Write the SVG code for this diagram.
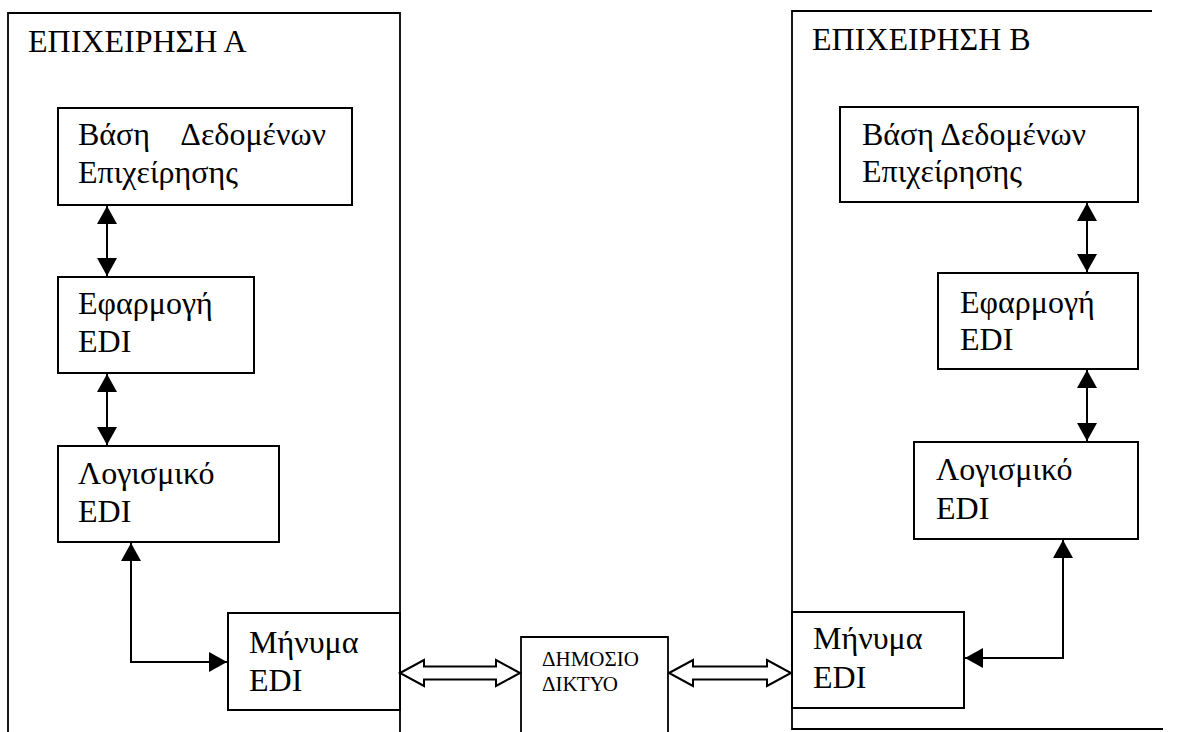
<svg xmlns="http://www.w3.org/2000/svg" width="1181" height="732" viewBox="0 0 1181 732">
<style>
.bg{fill:#fff}
.box{fill:#fff;stroke:#000;stroke-width:2}
.outer{fill:none;stroke:#000;stroke-width:1.8}
text{font-family:"Liberation Serif","Times New Roman",serif;fill:#000}
.t{font-size:32px}
.ts{font-size:21px}
.c{fill:none;stroke:#000;stroke-width:2}
.h{fill:#fff;stroke:#000;stroke-width:2;stroke-linejoin:miter}
</style>
<defs>
<marker id="ah" viewBox="0 0 18 20" refX="18" refY="10" markerWidth="18" markerHeight="20" markerUnits="userSpaceOnUse" orient="auto-start-reverse">
<path d="M0,0 L18,10 L0,20 z" fill="#000"/>
</marker>
</defs>
<rect class="bg" x="0" y="0" width="1181" height="732"/>
<g id="firmA">
<path class="outer" d="M8,732 V13 H400 V732"/>
<text class="t" x="28" y="52">ΕΠΙΧΕΙΡΗΣΗ Α</text>
</g>
<g id="firmB">
<path class="outer" d="M1152,11 H792 V729 H1163"/>
<text class="t" x="812" y="50">ΕΠΙΧΕΙΡΗΣΗ B</text>
</g>
<g id="dbA">
<rect class="box" x="58" y="108" width="294" height="97"/>
<text class="t" x="78" y="145">Βάση</text>
<text class="t" x="326" y="145" text-anchor="end">Δεδομένων</text>
<text class="t" x="78" y="183">Επιχείρησης</text>
</g>
<g id="appA">
<rect class="box" x="58" y="277" width="196" height="96"/>
<text class="t" x="78" y="314">Εφαρμογή</text>
<text class="t" x="78" y="352">EDI</text>
</g>
<g id="swA">
<rect class="box" x="58" y="446" width="221" height="96"/>
<text class="t" x="78" y="484">Λογισμικό</text>
<text class="t" x="78" y="522">EDI</text>
</g>
<g id="msgA">
<rect class="box" x="228" y="613" width="172" height="97"/>
<text class="t" x="249" y="653">Μήνυμα</text>
<text class="t" x="249" y="691">EDI</text>
</g>
<g id="net">
<path class="outer" d="M521,732 V637 H668 V732"/>
<text class="ts" x="542" y="666">ΔΗΜΟΣΙΟ</text>
<text class="ts" x="542" y="691">ΔΙΚΤΥΟ</text>
</g>
<g id="dbB">
<rect class="box" x="840" y="107" width="298" height="95"/>
<text class="t" x="862" y="145">Βάση Δεδομένων</text>
<text class="t" x="862" y="182">Επιχείρησης</text>
</g>
<g id="appB">
<rect class="box" x="938" y="273" width="200" height="96"/>
<text class="t" x="960" y="313">Εφαρμογή</text>
<text class="t" x="960" y="350">EDI</text>
</g>
<g id="swB">
<rect class="box" x="914" y="442" width="224" height="97"/>
<text class="t" x="936" y="480">Λογισμικό</text>
<text class="t" x="936" y="519">EDI</text>
</g>
<g id="msgB">
<rect class="box" x="792" y="612" width="172" height="96"/>
<text class="t" x="813" y="649">Μήνυμα</text>
<text class="t" x="813" y="688">EDI</text>
</g>
<g id="connectors">
<path class="c" d="M107,206 V276" marker-start="url(#ah)" marker-end="url(#ah)"/>
<path class="c" d="M107,374 V445" marker-start="url(#ah)" marker-end="url(#ah)"/>
<path class="c" d="M131,543 V662 H227" marker-start="url(#ah)" marker-end="url(#ah)"/>
<path class="c" d="M1087,203 V272" marker-start="url(#ah)" marker-end="url(#ah)"/>
<path class="c" d="M1087,370 V441" marker-start="url(#ah)" marker-end="url(#ah)"/>
<path class="c" d="M1063,540 V658 H965" marker-start="url(#ah)" marker-end="url(#ah)"/>
<polygon class="h" points="400,673 424,660 424,666.5 496,666.5 496,660 520,673 496,686 496,679.5 424,679.5 424,686"/>
<polygon class="h" points="669,673 693,660 693,666.5 767,666.5 767,660 791,673 767,686 767,679.5 693,679.5 693,686"/>
</g>
</svg>
